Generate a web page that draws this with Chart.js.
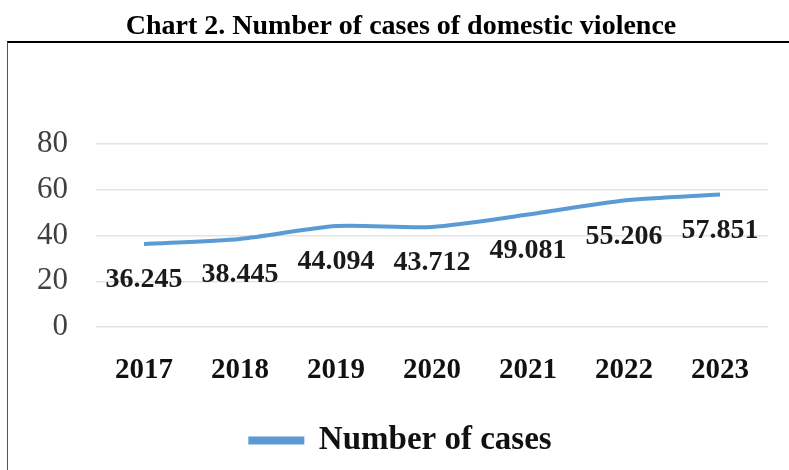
<!DOCTYPE html>
<html>
<head>
<meta charset="utf-8">
<script src="https://cdn.jsdelivr.net/npm/chart.js@4.4.1/dist/chart.umd.min.js"></script>
<style>
  html, body { margin: 0; padding: 0; background: #fff; }
  #wrap { position: relative; width: 789px; height: 470px; overflow: hidden; }
  #frame {
    position: absolute; left: 7px; top: 41px; width: 800px; height: 460px;
    border-top: 2px solid #000; border-left: 1px solid #555;
  }
  canvas { position: absolute; left: 0; top: 0; }
</style>
</head>
<body>
<div id="wrap">
  <div id="frame"></div>
  <canvas id="chart" width="789" height="470"></canvas>
</div>
<script>
// Data
const years = ["2017", "2018", "2019", "2020", "2021", "2022", "2023"];
const cases = [36.245, 38.445, 44.094, 43.712, 49.081, 55.206, 57.851];
const caseLabels = ["36.245", "38.445", "44.094", "43.712", "49.081", "55.206", "57.851"];
const yTicks = [0, 20, 40, 60, 80];

const serif = '"Liberation Serif", "Times New Roman", serif';

// Value labels drawn under each point
const valueLabels = {
  id: 'valueLabels',
  afterDatasetsDraw(chart) {
    const ctx = chart.ctx;
    const meta = chart.getDatasetMeta(0);
    ctx.save();
    ctx.font = 'bold 28px ' + serif;
    ctx.fillStyle = '#1a1a1a';
    ctx.textAlign = 'center';
    ctx.textBaseline = 'middle';
    meta.data.forEach((pt, i) => {
      ctx.fillText(caseLabels[i], pt.x, pt.y + 36);
    });
    ctx.restore();
  }
};

const ctx = document.getElementById('chart').getContext('2d');
const chart = new Chart(ctx, {
  type: 'line',
  data: {
    labels: years,
    datasets: [{
      label: 'Number of cases',
      data: cases,
      borderColor: '#5b9bd5',
      backgroundColor: '#5b9bd5',
      borderWidth: 4,
      pointRadius: 0,
      tension: 0.25
    }]
  },
  options: {
    responsive: false,
    animation: false,
    // left padding + fixed y width keep the plot at x=96..768 and push the legend centre right
    layout: { padding: { left: 34, right: 21, top: 0, bottom: 3 } },
    plugins: {
      title: {
        display: true,
        text: 'Chart 2. Number of cases of domestic violence',
        color: '#000',
        font: { family: serif, size: 28, weight: 'bold' },
        padding: { top: 10, bottom: 100 }
      },
      legend: {
        display: true,
        position: 'bottom',
        labels: {
          color: '#111',
          font: { family: serif, size: 33, weight: 'bold' },
          boxWidth: 52,
          boxHeight: 4,
          padding: 10
        }
      },
      tooltip: { enabled: false }
    },
    scales: {
      x: {
        offset: true,
        grid: { display: false, drawTicks: false },
        border: { display: false },
        ticks: {
          color: '#111',
          font: { family: serif, size: 29, weight: 'bold' },
          padding: 26
        }
      },
      y: {
        min: 0,
        max: 80,
        afterBuildTicks: axis => { axis.ticks = yTicks.map(v => ({ value: v })); },
        grid: { color: '#e3e3e3', lineWidth: 1.5, drawTicks: false },
        border: { display: false },
        ticks: {
          color: '#404040',
          font: { family: serif, size: 31 },
          padding: 28
        },
        afterFit: axis => { axis.width = 62; }
      }
    }
  },
  plugins: [valueLabels]
});
</script>
</body>
</html>
